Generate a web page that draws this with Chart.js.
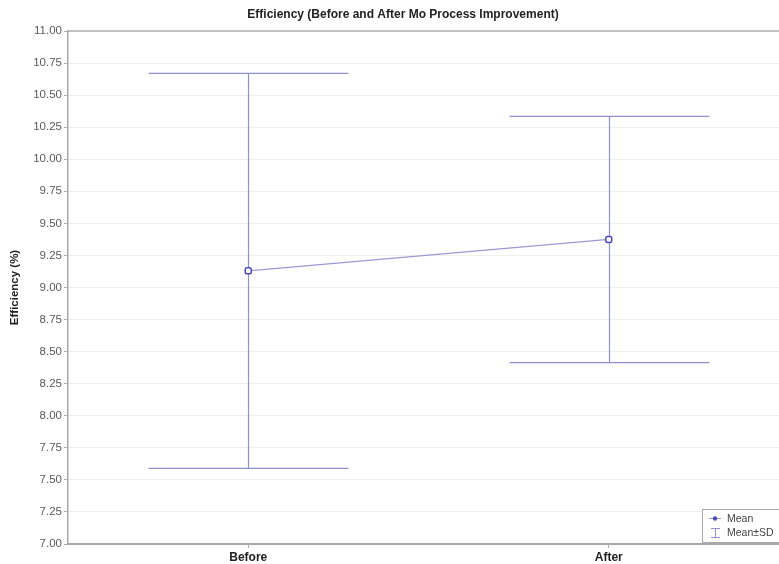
<!DOCTYPE html>
<html>
<head>
<meta charset="utf-8">
<script src="https://cdn.jsdelivr.net/npm/chart.js@4/dist/chart.umd.min.js"></script>
<style>
  html, body { margin: 0; padding: 0; background: #fff; overflow: hidden; }
  #wrap { position: relative; width: 806px; height: 564px; }
</style>
</head>
<body>
<div id="wrap"><canvas id="c"></canvas></div>
<script>
// Group labels and summary statistics
const categories = ['Before', 'After'];
const means = [9.13, 9.375];
const sds = [1.54, 0.96];
const yTicks = [7.00, 7.25, 7.50, 7.75, 8.00, 8.25, 8.50, 8.75, 9.00, 9.25, 9.50, 9.75, 10.00, 10.25, 10.50, 10.75, 11.00];
const chartTitle = 'Efficiency (Before and After Mo Process Improvement)';

const FONT = '"Liberation Sans", Arial, sans-serif';
const LINE_COLOR = '#9a9ad6';
const BAR_COLOR = '#8f8fd2';
const MARK_COLOR = '#4b4bbd';

// Mean ± SD whiskers, positioned through the chart's own scales
const errorBars = {
  id: 'errorBars',
  beforeDatasetsDraw(chart) {
    const { ctx, scales: { x, y } } = chart;
    const step = x.getPixelForValue(1) - x.getPixelForValue(0);
    const capHalf = step * 0.277;
    ctx.save();
    ctx.strokeStyle = BAR_COLOR;
    ctx.lineWidth = 1.2;
    means.forEach((m, i) => {
      const px = Math.round(x.getPixelForValue(i)) + 0.5;
      const top = y.getPixelForValue(m + sds[i]);
      const bot = y.getPixelForValue(m - sds[i]);
      ctx.beginPath();
      ctx.moveTo(px, top); ctx.lineTo(px, bot);
      ctx.moveTo(px - capHalf, top); ctx.lineTo(px + capHalf, top);
      ctx.moveTo(px - capHalf, bot); ctx.lineTo(px + capHalf, bot);
      ctx.stroke();
    });
    ctx.restore();
  }
};

// Frame line along the top of the plot area, and the page-centred title
const frame = {
  id: 'frame',
  beforeDatasetsDraw(chart) {
    const { ctx, chartArea: a } = chart;
    ctx.save();
    ctx.strokeStyle = '#b0b0b0';
    ctx.lineWidth = 1.5;
    ctx.beginPath();
    ctx.moveTo(a.left, a.top); ctx.lineTo(a.right, a.top);
    ctx.stroke();
    ctx.fillStyle = '#222';
    ctx.font = 'bold 12px ' + FONT;
    ctx.textAlign = 'center';
    ctx.textBaseline = 'middle';
    ctx.fillText(chartTitle, chart.width / 2, 15);
    ctx.restore();
  }
};

// Legend box in the lower right corner
const legendBox = {
  id: 'legendBox',
  afterDraw(chart) {
    const { ctx } = chart;
    const bx = 702.5, by = 509.5, bw = 100, bh = 33;
    ctx.save();
    ctx.fillStyle = '#ffffff';
    ctx.fillRect(bx, by, bw, bh);
    ctx.strokeStyle = '#a8a8a8';
    ctx.lineWidth = 1;
    ctx.strokeRect(bx, by, bw, bh);
    // Mean entry
    ctx.strokeStyle = LINE_COLOR;
    ctx.beginPath(); ctx.moveTo(709, 518.5); ctx.lineTo(721, 518.5); ctx.stroke();
    ctx.fillStyle = MARK_COLOR;
    ctx.beginPath(); ctx.arc(715, 518.5, 2.2, 0, Math.PI * 2); ctx.fill();
    // Mean±SD entry
    ctx.strokeStyle = BAR_COLOR;
    ctx.beginPath();
    ctx.moveTo(715.5, 528); ctx.lineTo(715.5, 538);
    ctx.moveTo(711, 528.5); ctx.lineTo(720, 528.5);
    ctx.moveTo(711, 537.5); ctx.lineTo(720, 537.5);
    ctx.stroke();
    ctx.fillStyle = '#444';
    ctx.font = '10.5px ' + FONT;
    ctx.textBaseline = 'middle';
    ctx.fillText('Mean', 727, 519);
    ctx.fillText('Mean\u00B1SD', 727, 533);
    ctx.restore();
  }
};

new Chart(document.getElementById('c'), {
  type: 'line',
  data: {
    labels: categories,
    datasets: [{
      label: 'Mean',
      data: means,
      borderColor: LINE_COLOR,
      borderWidth: 1.3,
      pointStyle: 'rectRounded',
      pointRadius: 3.5,
      pointBorderWidth: 1.5,
      pointBorderColor: MARK_COLOR,
      pointBackgroundColor: '#ffffff',
      tension: 0
    }]
  },
  options: {
    responsive: true,
    maintainAspectRatio: false,
    animation: false,
    layout: { padding: { left: 0, right: 17, top: 31, bottom: 0 } },
    plugins: {
      legend: { display: false },
      tooltip: { enabled: false },
      title: { display: false }
    },
    scales: {
      x: {
        type: 'category',
        offset: true,
        grid: { display: true, drawOnChartArea: false, tickLength: 4, color: '#b0b0b0' },
        border: { display: true, color: '#a8a8a8', width: 2 },
        ticks: { color: '#222', font: { family: FONT, size: 12, weight: 'bold' }, padding: 2 },
        afterFit(s) { s.height = 20; }
      },
      y: {
        min: 7, max: 11,
        afterBuildTicks(s) { s.ticks = yTicks.map(v => ({ value: v })); },
        grid: {
          color: '#efefef',
          tickColor: '#b0b0b0',
          tickLength: 4,
          tickBorderDash: [3, 3]
        },
        border: { display: true, color: '#a8a8a8', width: 1.5, dash: [] },
        ticks: {
          color: '#5a5a5a',
          font: { family: FONT, size: 11.5 },
          padding: 2,
          callback: v => Number(v).toFixed(2)
        },
        title: {
          display: true,
          text: 'Efficiency (%)',
          color: '#222',
          font: { family: FONT, size: 11.5, weight: 'bold' },
          padding: { top: 8, bottom: 0 }
        },
        afterFit(s) { s.width = 68; }
      }
    }
  },
  plugins: [frame, errorBars, legendBox]
});
</script>
</body>
</html>
